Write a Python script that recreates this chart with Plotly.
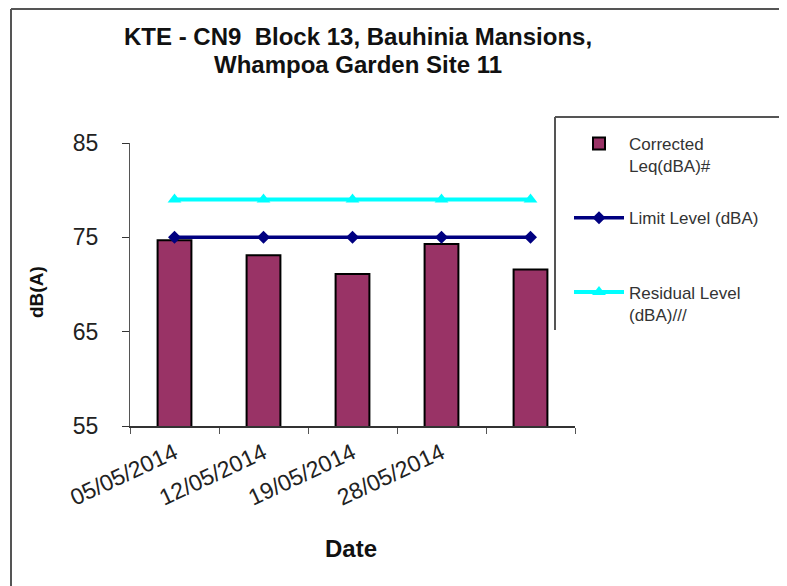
import plotly.graph_objects as go

dates = ["05/05/2014", "12/05/2014", "19/05/2014", "28/05/2014", ""]
corrected_leq = [74.7, 73.1, 71.1, 74.3, 71.6]
limit_level = [75, 75, 75, 75, 75]
residual_level = [79, 79, 79, 79, 79]
y_ticks = [55, 65, 75, 85]

W, H = 787, 586
OFF = 8  # page body margin
L, R, T, B = 130 - OFF, 575 - OFF, 143 - OFF, 426 - OFF  # plot area in figure pixels


def px(xp):
    return (xp - OFF - L) / (R - L)


def py(yp):
    return (B - (yp - OFF)) / (B - T)


x = list(range(len(dates)))
font = "Liberation Sans, Arial, sans-serif"

fig = go.Figure()
fig.add_trace(go.Bar(
    x=x, y=corrected_leq, name="Corrected<br>Leq(dBA)#",
    marker=dict(color="#993366", line=dict(color="#000000", width=2)),
    width=0.38, legendgroup="a",
))
fig.add_trace(go.Scatter(
    x=x, y=limit_level, name="Limit Level (dBA)<br>&nbsp;", mode="lines+markers",
    line=dict(color="#000080", width=3.5),
    marker=dict(symbol="diamond", size=10, color="#000080"),
    legendgroup="b",
))
fig.add_trace(go.Scatter(
    x=x, y=residual_level, name="Residual Level<br>(dBA)///", mode="lines+markers",
    line=dict(color="#00FFFF", width=4),
    marker=dict(symbol="triangle-up", size=12, color="#00FFFF"),
    legendgroup="c",
))

fig.update_layout(
    width=W, height=H,
    margin=dict(l=L, r=W - R, t=T, b=H - B, autoexpand=False),
    paper_bgcolor="white", plot_bgcolor="white",
    font=dict(family=font, color="#222222"),
    showlegend=True,
    legend=dict(
        x=px(569), y=py(126), xanchor="left", yanchor="top",
        bgcolor="rgba(255,255,255,0)", borderwidth=0,
        font=dict(family=font, size=17, color="#333333"),
        valign="top", tracegroupgap=27, traceorder="grouped",
        itemwidth=50,
    ),
)

fig.update_xaxes(
    range=[-0.5, len(dates) - 0.5],
    tickmode="array", tickvals=x, ticktext=dates,
    ticks="", tickangle=-25, ticklabelstandoff=3,
    tickfont=dict(family=font, size=23, color="#222222"),
    showline=True, linecolor="#333333", linewidth=1.5,
    showgrid=False, zeroline=False,
    minor=dict(ticks="outside", ticklen=6, tickcolor="#555555", tickwidth=1,
               tickmode="array", tickvals=[i - 0.5 for i in range(len(dates) + 1)],
               showgrid=False),
)
fig.update_yaxes(
    range=[55, 85], tickmode="array", tickvals=y_ticks,
    ticks="outside", ticklen=7, tickcolor="#333333",
    tickfont=dict(family=font, size=23, color="#222222"),
    ticklabelstandoff=19,
    showline=True, linecolor="#555555", linewidth=1,
    showgrid=False, zeroline=False,
)

ann = [
    dict(text="<b>KTE - CN9  Block 13, Bauhinia Mansions,</b>", x=px(358), y=py(36),
         font=dict(size=24, color="#111111")),
    dict(text="<b>Whampoa Garden Site 11</b>", x=px(358), y=py(64),
         font=dict(size=24, color="#111111")),
    dict(text="<b>Date</b>", x=px(351), y=py(548), font=dict(size=24, color="#111111")),
    dict(text="<b>dB(A)</b>", x=px(36), y=py(292), textangle=-90,
         font=dict(size=19, color="#111111")),
]
for a in ann:
    a.update(xref="paper", yref="paper", showarrow=False, xanchor="center", yanchor="middle")
    a["font"]["family"] = font
fig.update_layout(annotations=ann)

shape_line = dict(color="#555555", width=2)
shapes = [
    # outer frame (top and left)
    dict(type="line", xref="paper", yref="paper", x0=px(11), x1=px(800), y0=py(9), y1=py(9), line=shape_line),
    dict(type="line", xref="paper", yref="paper", x0=px(11), x1=px(11), y0=py(9), y1=py(600), line=shape_line),
    # legend box (bottom clipped)
    dict(type="line", xref="paper", yref="paper", x0=px(555), x1=px(780), y0=py(117), y1=py(117), line=shape_line),
    dict(type="line", xref="paper", yref="paper", x0=px(555), x1=px(555), y0=py(117), y1=py(330), line=shape_line),
    dict(type="line", xref="paper", yref="paper", x0=px(780), x1=px(780), y0=py(117), y1=py(330), line=shape_line),
]
fig.update_layout(shapes=shapes)

fig.write_html("out.html")
